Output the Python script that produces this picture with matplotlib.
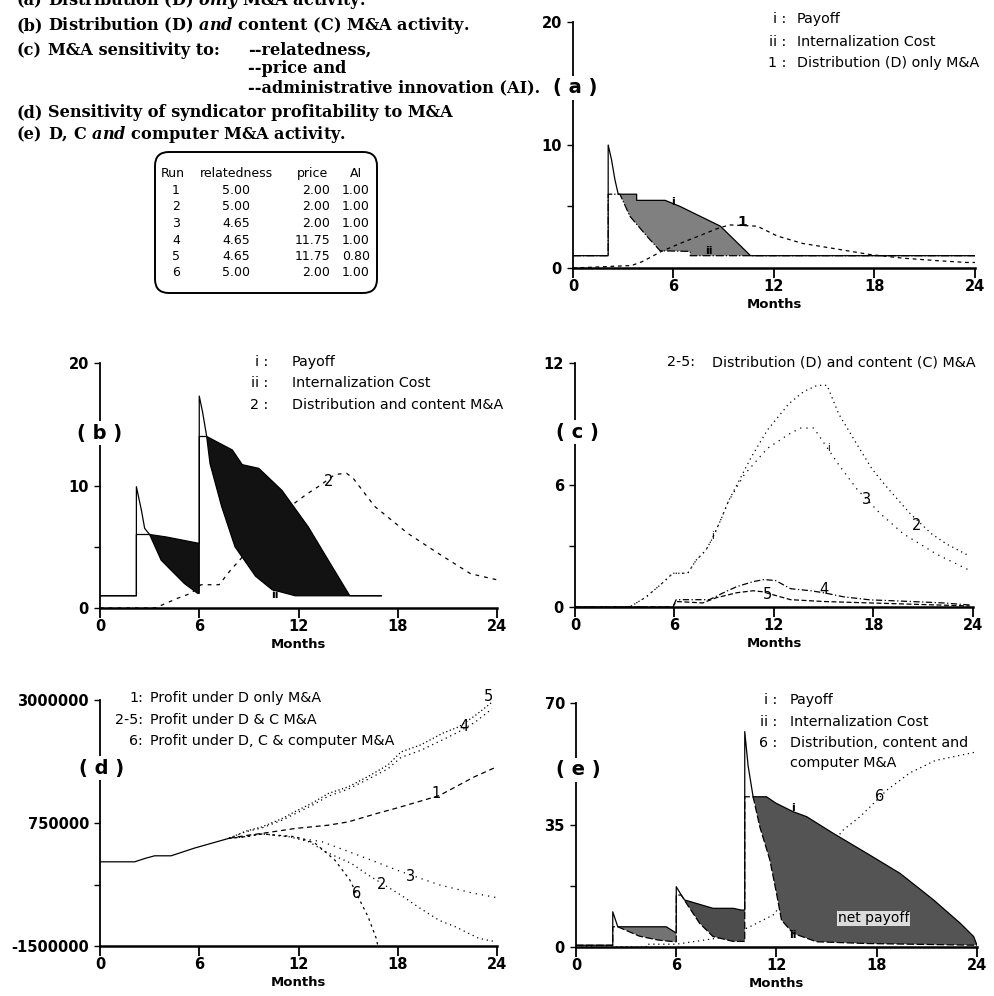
import numpy as np
import matplotlib.pyplot as plt
from matplotlib.patches import FancyBboxPatch

plt.rcParams['font.family'] = ['DejaVu Sans']
plt.rcParams['mathtext.fontset'] = 'custom'
plt.rcParams['mathtext.it'] = 'DejaVu Serif:italic:bold'
plt.rcParams['mathtext.rm'] = 'DejaVu Serif:bold'

W, H = 995, 996
MONTHS = [0, 6, 12, 18, 24]

# --- panel (a): distribution only M&A ---
a_pay_x = [0, 2.1, 2.1, 2.3, 2.5, 2.7, 3.8, 3.8, 5.5, 6.4, 8.8, 10.6, 24]
a_pay_y = [1.0, 1.0, 10.0, 8.8, 7.2, 6.0, 6.0, 5.5, 5.5, 5.0, 3.4, 1.0, 1.0]
a_cost_x = [0, 2.1, 2.1, 2.8, 3.4, 4.4, 5.2, 7.0, 7.0, 10.6, 24]
a_cost_y = [1.0, 1.0, 6.0, 6.0, 4.2, 2.6, 1.4, 1.35, 1.0, 1.0, 1.0]
a_run1_x = [0, 3.5, 4.1, 4.6, 5.2, 6.4, 8.8, 9.4, 11.0, 12.2, 13.7, 15.5, 17.7, 19.7, 21.7, 23.5, 24]
a_run1_y = [0, 0.2, 0.5, 0.85, 1.3, 2.0, 3.3, 3.5, 3.4, 2.6, 2.0, 1.6, 1.1, 0.8, 0.6, 0.45, 0.45]

# --- panel (b): distribution and content M&A ---
b_pay_x = [0, 2.2, 2.2, 2.5, 2.7, 3.0, 4.0, 5.9, 6.0, 6.0, 6.2, 6.45, 8.0, 8.6,
           9.6, 11.0, 12.6, 13.8, 15.1, 17.0]
b_pay_y = [1.0, 1.0, 9.9, 8.0, 6.5, 6.0, 5.8, 5.3, 5.3, 17.3, 16.0, 14.0, 12.9, 11.7,
           11.4, 9.6, 6.6, 3.9, 1.0, 1.0]
b_cost_x = [0, 2.2, 2.2, 3.0, 3.7, 5.1, 5.9, 6.0, 6.0, 6.45, 6.65, 7.35, 8.16, 9.4,
            10.4, 11.8, 15.1, 17.0]
b_cost_y = [1.0, 1.0, 6.0, 6.0, 3.9, 2.0, 1.2, 1.2, 14.0, 14.0, 11.8, 8.3, 5.0, 2.6,
            1.5, 1.0, 1.0, 1.0]
b_run2_x = [0, 3.3, 3.5, 4.7, 5.5, 6.1, 7.2, 7.9, 9.5, 11.8, 12.5, 13.3, 14.2, 14.9,
            15.3, 16.6, 18.6, 20.4, 22.4, 24.0]
b_run2_y = [0, 0, 0.1, 0.8, 1.2, 1.9, 1.9, 3.1, 5.5, 8.6, 9.3, 10.0, 10.9, 11.0,
            10.6, 8.3, 6.1, 4.5, 2.8, 2.3]

# --- panel (c): sensitivity runs 2-5 ---
c_run2_x = [0, 3.3, 4.3, 5.3, 5.9, 6.8, 7.3, 7.9, 8.3, 8.85, 9.25, 10.2, 10.65, 11.6,
            12.9, 13.8, 14.6, 15.2, 15.9, 17.0, 17.9, 18.8, 20.2, 21.5, 22.4, 23.8]
c_run2_y = [0, 0, 0.5, 1.2, 1.66, 1.66, 2.3, 2.8, 3.4, 4.4, 5.2, 6.7, 7.4, 8.7,
            10.0, 10.6, 10.9, 10.9, 9.5, 8.0, 6.8, 5.9, 4.6, 3.6, 3.1, 2.5]
c_run3_x = [0, 3.3, 4.3, 5.3, 5.9, 6.8, 7.3, 7.9, 8.3, 8.85, 9.25, 10.2, 11.6, 12.9,
            13.6, 14.4, 15.9, 17.0, 18.4, 19.8, 20.8, 21.8, 22.8, 23.8]
c_run3_y = [0, 0, 0.5, 1.2, 1.66, 1.66, 2.3, 2.8, 3.4, 4.4, 5.2, 6.5, 7.8, 8.5,
            8.8, 8.8, 7.0, 5.8, 4.6, 3.6, 3.1, 2.6, 2.2, 1.8]
c_run4_x = [0, 5.9, 6.1, 8.1, 9.1, 9.75, 10.75, 11.4, 12.1, 13.0, 14.2, 15.0, 16.2,
            17.8, 19.4, 22.2, 23.8]
c_run4_y = [0, 0, 0.36, 0.36, 0.76, 1.0, 1.25, 1.35, 1.3, 0.9, 0.8, 0.7, 0.5,
            0.35, 0.3, 0.2, 0.1]
c_run5_x = [0, 5.9, 6.1, 7.7, 8.5, 9.75, 10.75, 11.3, 13.0, 15.0, 17.8, 21.8, 23.8]
c_run5_y = [0, 0, 0.27, 0.2, 0.45, 0.7, 0.8, 0.75, 0.36, 0.27, 0.2, 0.1, 0.05]

# --- panel (d): profit (million $), common start then branches ---
d_base_x = [0, 2.1, 2.7, 3.3, 4.3, 4.9, 5.7, 6.75, 7.8]
d_base_y = [0.04, 0.04, 0.10, 0.15, 0.15, 0.21, 0.29, 0.38, 0.47]
d_up_x = [8.8, 9.8, 11.0, 11.8, 12.8, 13.8, 15.0, 16.2, 17.4, 18.2, 19.4, 20.7, 21.7, 22.7, 23.7]
d_run5_y = [0.60, 0.68, 0.83, 0.96, 1.11, 1.29, 1.41, 1.60, 1.81, 2.05, 2.18, 2.39, 2.51, 2.72, 2.96]
d_run4_y = [0.59, 0.66, 0.80, 0.92, 1.07, 1.24, 1.37, 1.55, 1.74, 1.95, 2.08, 2.27, 2.42, 2.60, 2.84]
d_run1_x = [8.8, 9.8, 11.8, 13.8, 15.0, 16.8, 17.9, 20.5, 22.6, 24.0]
d_run1_y = [0.52, 0.56, 0.65, 0.71, 0.77, 0.93, 1.02, 1.25, 1.59, 1.78]
d_run2_x = [8.8, 9.8, 11.4, 12.6, 13.8, 15.2, 16.2, 18.2, 19.2, 20.5, 21.5, 22.9, 23.9]
d_run2_y = [0.50, 0.55, 0.50, 0.41, 0.20, 0.01, -0.20, -0.57, -0.78, -1.03, -1.15, -1.36, -1.42]
d_run3_x = [8.8, 9.8, 11.4, 13.4, 15.0, 16.4, 18.2, 20.5, 22.5, 23.9]
d_run3_y = [0.50, 0.55, 0.50, 0.41, 0.23, 0.07, -0.14, -0.38, -0.53, -0.61]
d_run6_x = [8.8, 9.8, 11.8, 13.0, 14.2, 15.1, 15.8, 16.2, 16.7, 16.8]
d_run6_y = [0.50, 0.55, 0.50, 0.38, 0.07, -0.29, -0.72, -0.96, -1.36, -1.50]

# --- panel (e): D, C and computer M&A ---
e_pay_x = [0, 2.2, 2.2, 2.5, 5.4, 6.0, 6.0, 6.3, 6.5, 8.2, 9.4, 9.9, 10.1, 10.1, 10.3,
           10.6, 11.4, 11.95, 13.0, 13.8, 15.4, 17.4, 19.4, 21.4, 23.0, 23.8, 24.0]
e_pay_y = [0.5, 0.5, 10.1, 5.8, 5.8, 4.0, 17.3, 14.9, 13.5, 11.1, 11.1, 10.6, 10.6, 61.8, 52.0,
           43.1, 43.1, 41.3, 38.8, 37.4, 32.6, 26.9, 21.1, 13.5, 6.8, 3.0, 0.5]
e_cost_x = [0, 2.2, 2.2, 2.5, 3.8, 4.9, 5.9, 6.0, 6.0, 6.3, 6.6, 7.4, 8.2, 9.4, 10.1,
            10.1, 10.6, 11.0, 11.6, 12.0, 12.3, 13.0, 14.4, 17.4, 24.0]
e_cost_y = [0.5, 0.5, 5.8, 5.8, 3.1, 2.0, 1.5, 1.5, 14.9, 14.9, 12.6, 6.8, 3.0, 1.6, 1.6,
            43.1, 43.1, 34.5, 25.0, 15.4, 7.7, 3.9, 1.5, 1.0, 0.5]
e_run6_x = [0, 4.2, 4.2, 6.0, 7.7, 9.1, 10.4, 11.8, 14.0, 16.0, 17.0, 17.6, 18.6, 20.0, 21.5, 23.0, 24.0]
e_run6_y = [0, 0, 0.8, 0.8, 2.0, 3.0, 5.8, 9.2, 22.0, 33.6, 37.4, 40.2, 45.0, 50.0, 53.5, 55.0, 56.0]

# --- table of runs ---
tab_header = ['Run', 'relatedness', 'price', 'AI']
tab_run = ['1', '2', '3', '4', '5', '6']
tab_related = ['5.00', '5.00', '4.65', '4.65', '4.65', '5.00']
tab_price = ['2.00', '2.00', '2.00', '11.75', '11.75', '2.00']
tab_ai = ['1.00', '1.00', '1.00', '1.00', '0.80', '1.00']

fig = plt.figure(figsize=(W / 100, H / 100), dpi=100)


def ftext(x, y, s, **kw):
    return fig.text(x / W, 1 - y / H, s, **kw)


def make_axes(x0, y0, x1, y1, ylim, yticks, ylabels):
    ax = fig.add_axes([x0 / W, 1 - y1 / H, (x1 - x0) / W, (y1 - y0) / H])
    ax.patch.set_alpha(0)
    for s in ('top', 'right'):
        ax.spines[s].set_visible(False)
    ax.spines['left'].set_linewidth(1.3)
    ax.spines['bottom'].set_linewidth(1.8)
    ax.set_xlim(0, 24)
    ax.set_ylim(*ylim)
    ax.set_xticks(MONTHS)
    ax.set_xticklabels([str(m) for m in MONTHS])
    ax.set_yticks(yticks)
    ax.set_yticklabels(ylabels)
    ax.tick_params(axis='x', direction='out', length=7, width=1.3, pad=1, labelsize=10.5)
    ax.tick_params(axis='y', direction='out', length=4, width=1.0, pad=4, labelsize=10.5)
    for lab in ax.get_xticklabels() + ax.get_yticklabels():
        lab.set_fontweight('bold')
    ftext((x0 + x1) / 2, y1 + 36, 'Months', ha='center', va='center',
          fontsize=9.5, fontweight='bold')
    return ax


def shade(ax, tx, ty, bx, by, color):
    xs = list(tx) + list(bx)[::-1]
    ys = list(ty) + list(by)[::-1]
    ax.fill(xs, ys, color=color, lw=0, zorder=1)


def panel_tag(x, y, s):
    ftext(x, y, s, ha='center', va='center', fontsize=14, fontweight='bold',
          bbox=dict(facecolor='white', edgecolor='none', pad=1.5), zorder=5)


LW = 0.9
LFS = 10.3

# ---------------- panel (a) ----------------
ax = make_axes(573, 22, 975, 268, (0, 20), [0, 5, 10, 15, 20], ['0', '', '10', '', '20'])
shade(ax, a_pay_x[5:12], a_pay_y[5:12], a_cost_x[3:10], a_cost_y[3:10], '0.5')
ax.plot(a_pay_x, a_pay_y, color='k', lw=LW, zorder=3)
ax.plot(a_cost_x, a_cost_y, color='k', lw=LW, ls='-.', zorder=3)
ax.plot(a_run1_x, a_run1_y, color='k', lw=LW, ls=(0, (3, 3)), zorder=3)
ax.text(10.1, 3.75, '1', fontsize=10, fontweight='bold', ha='center', va='center')
ax.text(6.0, 5.4, 'i', fontsize=8, fontweight='bold', ha='center', va='center')
ax.text(8.1, 1.4, 'ii', fontsize=8, fontweight='bold', ha='center', va='center')
panel_tag(575, 88, '( a )')
for yy, mk, lab in [(19, 'i :', 'Payoff'), (42, 'ii :', 'Internalization Cost'),
                    (63, '1 :', 'Distribution (D) only M&A')]:
    ftext(786, yy, mk, ha='right', va='center', fontsize=LFS)
    ftext(797, yy, lab, ha='left', va='center', fontsize=LFS)

# ---------------- panel (b) ----------------
ax = make_axes(100, 363, 497, 608, (0, 20), [0, 5, 10, 15, 20], ['0', '', '10', '', '20'])
shade(ax, b_pay_x[5:9], b_pay_y[5:9], b_cost_x[3:8], b_cost_y[3:8], '0.07')
shade(ax, b_pay_x[11:19], b_pay_y[11:19], b_cost_x[9:17], b_cost_y[9:17], '0.07')
ax.plot(b_pay_x, b_pay_y, color='k', lw=LW, zorder=3)
ax.plot(b_cost_x, b_cost_y, color='k', lw=LW, zorder=3)
ax.plot(b_run2_x, b_run2_y, color='k', lw=LW, ls=(0, (3, 4)), zorder=0.5)
ax.text(13.8, 10.3, '2', fontsize=10.5, ha='center', va='center')
ax.text(8.6, 12.4, 'i', fontsize=8, color='white', fontweight='bold', ha='center', va='center', zorder=4)
ax.text(10.6, 1.1, 'ii', fontsize=8, fontweight='bold', ha='center', va='center', zorder=4)
panel_tag(100, 433, '( b )')
for yy, mk, lab in [(362, 'i :', 'Payoff'), (383, 'ii :', 'Internalization Cost'),
                    (405, '2 :', 'Distribution and content M&A')]:
    ftext(268, yy, mk, ha='right', va='center', fontsize=LFS)
    ftext(292, yy, lab, ha='left', va='center', fontsize=LFS)

# ---------------- panel (c) ----------------
ax = make_axes(575, 363, 973, 607, (0, 12), [0, 3, 6, 9, 12], ['0', '', '6', '', '12'])
ax.plot(c_run2_x, c_run2_y, color='k', lw=LW, ls=(0, (1, 3)), zorder=3)
ax.plot(c_run3_x, c_run3_y, color='k', lw=LW, ls=(0, (1, 4)), zorder=3)
ax.plot(c_run4_x, c_run4_y, color='k', lw=LW, ls=(0, (5, 2, 1, 2)), zorder=3)
ax.plot(c_run5_x, c_run5_y, color='k', lw=LW, ls=(0, (4, 2)), zorder=3)
ax.text(17.6, 5.3, '3', fontsize=10.5, ha='center', va='center')
ax.text(20.6, 4.0, '2', fontsize=10.5, ha='center', va='center')
ax.text(15.0, 0.85, '4', fontsize=10.5, ha='center', va='center')
ax.text(11.6, 0.6, '5', fontsize=10.5, ha='center', va='center')
ax.text(8.3, 3.5, 'i', fontsize=7, ha='center', va='center')
ax.text(15.3, 7.8, 'i', fontsize=7, ha='center', va='center')
panel_tag(577, 432, '( c )')
ftext(667, 362, '2-5:', ha='left', va='center', fontsize=LFS)
ftext(712, 362, 'Distribution (D) and content (C) M&A', ha='left', va='center', fontsize=LFS)

# ---------------- panel (d) ----------------
ax = make_axes(100, 700, 497, 946, (-1.5, 3.0), [-1.5, -0.375, 0.75, 1.875, 3.0],
               ['-1500000', '', '750000', '', '3000000'])
d_tails = [(d_up_x, d_run5_y, (0, (1, 2))), (d_up_x, d_run4_y, (0, (1, 3))),
           (d_run1_x, d_run1_y, (0, (4, 3))), (d_run2_x, d_run2_y, (0, (1, 3))),
           (d_run3_x, d_run3_y, (0, (1, 4))), (d_run6_x, d_run6_y, (0, (2, 3)))]
ax.plot(d_base_x, d_base_y, color='k', lw=LW, zorder=3)
for tx, ty, ls in d_tails:
    ax.plot([d_base_x[-1]] + tx, [d_base_y[-1]] + ty, color='k', lw=LW, ls=ls, zorder=3)
for xx, yy, lab in [(23.5, 3.06, '5'), (22.0, 2.51, '4'), (20.3, 1.29, '1'),
                    (18.8, -0.23, '3'), (17.0, -0.37, '2'), (15.5, -0.54, '6')]:
    ax.text(xx, yy, lab, fontsize=10.5, ha='center', va='center', zorder=4)
panel_tag(102, 768, '( d )')
for yy, mk, lab in [(698, '1:', 'Profit under D only M&A'), (720, '2-5:', 'Profit under D & C M&A'),
                    (741, '6:', 'Profit under D, C & computer M&A')]:
    ftext(143, yy, mk, ha='right', va='center', fontsize=LFS)
    ftext(150, yy, lab, ha='left', va='center', fontsize=LFS)

# ---------------- panel (e) ----------------
ax = make_axes(576, 703, 977, 947, (0, 70), [0, 17.5, 35, 52.5, 70], ['0', '', '35', '', '70'])
shade(ax, e_pay_x[3:6], e_pay_y[3:6], e_cost_x[3:8], e_cost_y[3:8], '0.45')
shade(ax, e_pay_x[7:13], e_pay_y[7:13], e_cost_x[9:15], e_cost_y[9:15], '0.3')
shade(ax, e_pay_x[15:27], e_pay_y[15:27], e_cost_x[16:25], e_cost_y[16:25], '0.33')
ax.plot(e_pay_x, e_pay_y, color='k', lw=LW, zorder=3)
ax.plot(e_cost_x, e_cost_y, color='k', lw=LW, ls=(0, (6, 2)), zorder=3)
ax.plot(e_run6_x, e_run6_y, color='k', lw=LW, ls=(0, (1, 3)), zorder=0.5)
ax.text(18.2, 43.1, '6', fontsize=10.5, ha='center', va='center')
ax.text(13.0, 39.8, 'i', fontsize=8, fontweight='bold', ha='center', va='center', zorder=4)
ax.text(13.0, 3.4, 'ii', fontsize=8, fontweight='bold', ha='center', va='center', zorder=4)
ax.text(17.8, 8.2, 'net payoff', fontsize=10, ha='center', va='center', zorder=4,
        bbox=dict(facecolor='white', edgecolor='none', pad=0.5, alpha=0.8))
panel_tag(578, 770, '( e )')
for yy, mk, lab in [(700, 'i :', 'Payoff'), (722, 'ii :', 'Internalization Cost'),
                    (743, '6 :', 'Distribution, content and')]:
    ftext(777, yy, mk, ha='right', va='center', fontsize=LFS)
    ftext(790, yy, lab, ha='left', va='center', fontsize=LFS)
ftext(790, 763, 'computer M&A', ha='left', va='center', fontsize=LFS)

# ---------------- caption text (top left) ----------------
serif = dict(family='DejaVu Serif', fontweight='bold', fontsize=11.6, va='baseline')
captions = [(5, '(a)', r'Distribution (D) $\mathit{only}$ M&A activity.'),
            (30, '(b)', r'Distribution (D) $\mathit{and}$ content (C) M&A activity.'),
            (55, '(c)', 'M&A sensitivity to:'),
            (117, '(d)', 'Sensitivity of syndicator profitability to M&A'),
            (139, '(e)', r'D, C $\mathit{and}$ computer M&A activity.')]
for yy, tag, s in captions:
    ftext(16, yy, tag, **serif)
    ftext(48, yy, s, **serif)
ftext(248, 55, '--relatedness,', **serif)
ftext(248, 73, '--price and', **serif)
ftext(248, 92, '--administrative innovation (AI).', **serif)

# ---------------- run table ----------------
box = FancyBboxPatch((155 / W, 1 - 293 / H), 222 / W, 141 / H,
                     boxstyle='round,pad=0,rounding_size=0.014',
                     transform=fig.transFigure, facecolor='white', edgecolor='k', lw=1.4)
fig.patches.append(box)
TFS = 9
tcol = [173, 236, 313, 356]
for c, h in zip(tcol, tab_header):
    ftext(c, 177, h, ha='center', va='baseline', fontsize=TFS)
for i in range(len(tab_run)):
    yy = 194 + 16.5 * i
    ftext(tcol[0] + 3, yy, tab_run[i], ha='center', va='baseline', fontsize=TFS)
    ftext(tcol[1], yy, tab_related[i], ha='center', va='baseline', fontsize=TFS)
    ftext(tcol[2] + 17, yy, tab_price[i], ha='right', va='baseline', fontsize=TFS)
    ftext(tcol[3], yy, tab_ai[i], ha='center', va='baseline', fontsize=TFS)

fig.savefig('out.png', dpi=100)
